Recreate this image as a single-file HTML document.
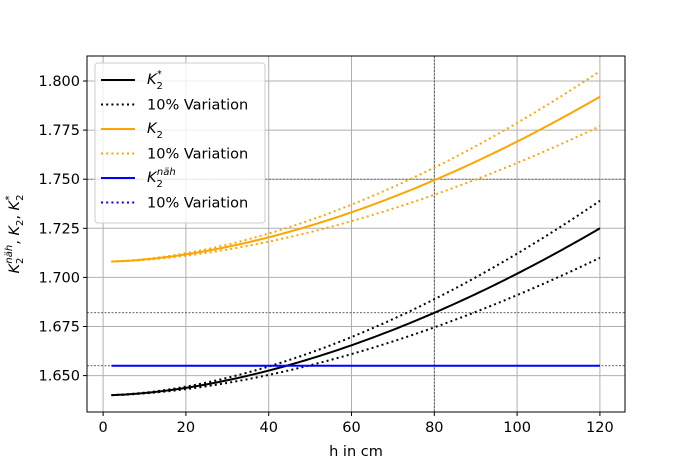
<!DOCTYPE html>
<html><head><meta charset="utf-8"><style>
body{margin:0;background:#fff;}
svg{display:block;font-family:"DejaVu Sans","Liberation Sans",sans-serif;}
</style></head><body>
<svg id="s" width="694" height="462" viewBox="0 0 694 462" xmlns="http://www.w3.org/2000/svg"></svg>
<script>
const s=document.getElementById('s');
const X=h=>103.1+4.14*h, Y=v=>81+(1.8-v)*1964;
const L=87,R=625,T=56,B=412;
let o='';
for(let h=0;h<=120;h+=20)o+=`<line x1="${X(h)}" y1="${T}" x2="${X(h)}" y2="${B}" stroke="#b0b0b0" stroke-width="1"/>`;
for(let v=1.65;v<=1.8001;v+=0.025)o+=`<line x1="${L}" y1="${Y(v)}" x2="${R}" y2="${Y(v)}" stroke="#b0b0b0" stroke-width="1"/>`;
[1.75,1.682,1.655].forEach(v=>o+=`<line x1="${L}" y1="${Y(v)}" x2="${R}" y2="${Y(v)}" stroke="#333" stroke-width="0.7" stroke-dasharray="2,1.5"/>`);
o+=`<line x1="${X(80)}" y1="${T}" x2="${X(80)}" y2="${B}" stroke="#333" stroke-width="0.7" stroke-dasharray="2,1.5"/>`;
function curve(base,amp,col,dash){let p=[];for(let h=2;h<=120;h+=1){p.push(X(h).toFixed(2)+','+Y(base+amp*Math.pow(h/120,1.74)).toFixed(2));}
o+=`<polyline points="${p.join(' ')}" fill="none" stroke="${col}" stroke-width="2" ${dash?'stroke-dasharray="2,3.2"':''}/>`;}
curve(1.640,0.099,'#000',1);curve(1.640,0.070,'#000',1);curve(1.640,0.085,'#000',0);
curve(1.708,0.097,'orange',1);curve(1.708,0.069,'orange',1);curve(1.708,0.084,'orange',0);
o+=`<line x1="${X(2)}" y1="${Y(1.655)}" x2="${X(120)}" y2="${Y(1.655)}" stroke="blue" stroke-width="2"/>`;
o+=`<rect x="${L}" y="${T}" width="${R-L}" height="${B-T}" fill="none" stroke="#000" stroke-width="1"/>`;
for(let h=0;h<=120;h+=20)o+=`<line x1="${X(h)}" y1="${B}" x2="${X(h)}" y2="${B+4}" stroke="#000"/><text x="${X(h)}" y="${B+20}" font-size="14.5" text-anchor="middle">${h}</text>`;
for(let v=1.65;v<=1.8001;v+=0.025)o+=`<line x1="${L-4}" y1="${Y(v)}" x2="${L}" y2="${Y(v)}" stroke="#000"/><text x="${L-7}" y="${Y(v)+5}" font-size="14.5" text-anchor="end">${v.toFixed(3)}</text>`;
o+=`<text x="356" y="456" font-size="14.5" text-anchor="middle">h in cm</text>`;
o+=`<text transform="translate(19,234) rotate(-90)" font-size="14.5" text-anchor="middle"><tspan font-style="italic">K</tspan><tspan font-size="10" dy="4">2</tspan><tspan font-size="10" font-style="italic" dy="-11" dx="-6">näh</tspan><tspan dy="7">, </tspan><tspan font-style="italic">K</tspan><tspan font-size="10" dy="4">2</tspan><tspan dy="-4">, </tspan><tspan font-style="italic">K</tspan><tspan font-size="10" dy="4">2</tspan><tspan font-size="10" dy="-11" dx="-6">*</tspan></text>`;
o+=`<rect x="95" y="63" width="170" height="160" rx="3" fill="#fff" fill-opacity="0.8" stroke="#ccc"/>`;
const items=[['#000',0,'K2','*'],['#000',1,'10% Variation'],['orange',0,'K2',''],['orange',1,'10% Variation'],['blue',0,'K2','näh'],['blue',1,'10% Variation']];
items.forEach((it,i)=>{const y=80+i*24.5;
o+=`<line x1="101" y1="${y}" x2="135" y2="${y}" stroke="${it[0]}" stroke-width="2" ${it[1]?'stroke-dasharray="2,3.2"':''}/>`;
if(it[1])o+=`<text x="147" y="${y+5}" font-size="14.5">10% Variation</text>`;
else o+=`<text x="147" y="${y+4}" font-size="14.5"><tspan font-style="italic">K</tspan><tspan font-size="10" dy="5">2</tspan>${it[3]?`<tspan font-size="10" dx="-6" dy="-12" ${it[3]=='näh'?'font-style="italic"':''}>${it[3]}</tspan>`:''}</text>`;});
s.innerHTML=o;
</script>
</body></html>
